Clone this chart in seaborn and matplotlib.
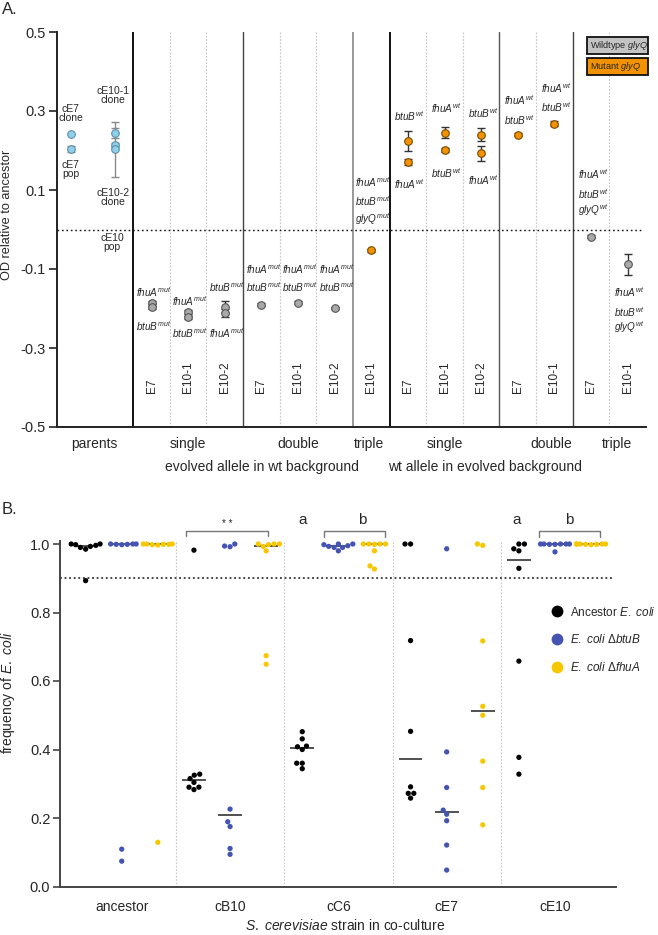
import numpy as np
import pandas as pd
import matplotlib
matplotlib.use("Agg")
import matplotlib.pyplot as plt
from matplotlib.lines import Line2D
from matplotlib.patches import Rectangle
import seaborn as sns

sns.set_theme(style="white")
plt.rcParams['font.family'] = ['Liberation Sans', 'DejaVu Sans']
plt.rcParams['mathtext.fontset'] = 'custom'
plt.rcParams['mathtext.rm'] = 'Liberation Sans'
plt.rcParams['mathtext.it'] = 'Liberation Sans:italic'
plt.rcParams['mathtext.bf'] = 'Liberation Sans:bold'

# ---------------- Panel A data ----------------
colA_labels = ["E7", "E10-1", "E10-2", "E7", "E10-1", "E10-2", "E10-1",
               "E7", "E10-1", "E10-2", "E7", "E10-1", "E7", "E10-1"]
subgroup_labels = ["parents", "single", "double", "triple", "single", "double", "triple"]
subgroup_pos = [-1.05, 1.5, 4.5, 6.45, 8.5, 11.4, 13.2]
maingroup_labels = ["evolved allele in wt background", "wt allele in evolved background"]
maingroup_pos = [3.52, 9.6]

parents_x = [-1.7, -0.5]          # cE7, cE10 positions in the parents area

# points: column (-2 = cE7 parent, -1 = cE10 parent), value, sd, glyQ status
ptA_col = [-2, -2, -1, -1, -1,
           0, 0, 1, 1, 2, 2, 3, 4, 5,
           6, 7, 7, 8, 8, 9, 9, 10, 11,
           12, 13]
ptA_val = [0.241, 0.203, 0.244, 0.215, 0.203,
           -0.185, -0.197, -0.209, -0.222, -0.195, -0.211, -0.190, -0.185, -0.199,
           -0.053, 0.224, 0.171, 0.245, 0.201, 0.240, 0.193, 0.240, 0.268,
           -0.018, -0.088]
ptA_err = [0.0, 0.008, 0.012, 0.005, 0.070,
           0.004, 0.004, 0.004, 0.004, 0.015, 0.011, 0.003, 0.003, 0.003,
           0.004, 0.026, 0.008, 0.014, 0.006, 0.016, 0.019, 0.004, 0.007,
           0.003, 0.026]
ptA_type = ["parent"] * 5 + ["wt"] * 9 + ["mut"] * 9 + ["wt"] * 2

parent_text = ["cE7\nclone", "cE7\npop", "cE10-1\nclone", "cE10-2\nclone", "cE10\npop"]
parent_text_x = [-1.7, -1.7, -0.54, -0.56, -0.58]
parent_text_y = [0.294, 0.152, 0.339, 0.081, -0.033]

gl_col = [0, 0, 1, 1, 2, 2, 3, 3, 4, 4, 5, 5, 6, 6, 6,
          7, 7, 8, 8, 9, 9, 10, 10, 11, 11, 12, 12, 12, 13, 13, 13]
gl_gene = ["fhuA", "btuB", "fhuA", "btuB", "btuB", "fhuA", "fhuA", "btuB",
           "fhuA", "btuB", "fhuA", "btuB", "fhuA", "btuB", "glyQ",
           "btuB", "fhuA", "fhuA", "btuB", "btuB", "fhuA", "fhuA", "btuB",
           "fhuA", "btuB", "fhuA", "btuB", "glyQ", "fhuA", "btuB", "glyQ"]
gl_allele = ["mut"] * 15 + ["wt"] * 16
gl_y = [-0.159, -0.245, -0.180, -0.263, -0.146, -0.263, -0.099, -0.146,
        -0.099, -0.146, -0.099, -0.146, 0.120, 0.071, 0.027,
        0.286, 0.116, 0.308, 0.143, 0.294, 0.126, 0.327, 0.278,
        0.359, 0.310, 0.139, 0.090, 0.048, -0.159, -0.208, -0.247]

# ---------------- Panel B data ----------------
groupsB = ["ancestor", "cB10", "cC6", "cE7", "cE10"]
strainsB = ["Ancestor", "btuB", "fhuA"]
freq = {
    ("ancestor", "Ancestor"): [1.0, 0.996, 0.99, 0.985, 0.993, 1.0, 0.998, 0.893],
    ("ancestor", "btuB"): [1.0, 1.0, 0.999, 0.999, 1.0, 0.998, 0.109, 0.074],
    ("ancestor", "fhuA"): [1.0, 1.0, 0.999, 0.998, 1.0, 0.999, 0.997, 0.129],
    ("cB10", "Ancestor"): [0.982, 0.328, 0.325, 0.315, 0.304, 0.290, 0.290, 0.283],
    ("cB10", "btuB"): [1.0, 0.994, 0.992, 0.226, 0.189, 0.175, 0.111, 0.094],
    ("cB10", "fhuA"): [1.0, 1.0, 1.0, 0.998, 0.993, 0.980, 0.674, 0.649],
    ("cC6", "Ancestor"): [0.452, 0.431, 0.410, 0.408, 0.400, 0.360, 0.360, 0.344],
    ("cC6", "btuB"): [1.0, 1.0, 0.998, 0.995, 0.993, 0.990, 0.990, 0.980],
    ("cC6", "fhuA"): [1.0, 1.0, 1.0, 1.0, 0.999, 0.980, 0.936, 0.927],
    ("cE7", "Ancestor"): [1.0, 1.0, 0.718, 0.453, 0.291, 0.272, 0.272, 0.258],
    ("cE7", "btuB"): [0.986, 0.393, 0.289, 0.223, 0.211, 0.192, 0.121, 0.048],
    ("cE7", "fhuA"): [1.0, 0.996, 0.717, 0.526, 0.500, 0.366, 0.289, 0.180],
    ("cE10", "Ancestor"): [1.0, 1.0, 0.986, 0.980, 0.929, 0.658, 0.377, 0.328],
    ("cE10", "btuB"): [1.0, 1.0, 1.0, 1.0, 1.0, 0.999, 0.999, 0.977],
    ("cE10", "fhuA"): [1.0, 1.0, 1.0, 1.0, 1.0, 0.999, 0.999, 0.998],
}
colorsB = {"Ancestor": "#000000", "btuB": "#4553b3", "fhuA": "#f7c800"}
legend_labels = [r"Ancestor $\mathit{E.}$ $\mathit{coli}$",
                 r"$\mathit{E.}$ $\mathit{coli}$ Δ$\mathit{btuB}$",
                 r"$\mathit{E.}$ $\mathit{coli}$ Δ$\mathit{fhuA}$"]

# ---------------- Figure ----------------
W, H = 658, 935
fig = plt.figure(figsize=(W / 100, H / 100), dpi=100)
fig.patch.set_facecolor("white")

def fx(px):
    return px / W

def fy(py):
    return 1 - py / H

# ========== Panel A ==========
axA = fig.add_axes([fx(57), fy(427), fx(646 - 57), (427 - 32) / H])
axA.set_xlim(-2.08, 14.0)
axA.set_ylim(-0.5, 0.5)
for s in ["top", "right"]:
    axA.spines[s].set_visible(False)
for s in ["left", "bottom"]:
    axA.spines[s].set_color("#222222")
    axA.spines[s].set_linewidth(1.4)
axA.set_xticks([])
axA.set_yticks([0.5, 0.3, 0.1, -0.1, -0.3, -0.5])
axA.set_yticklabels(["0.5", "0.3", "0.1", "-0.1", "-0.3", "-0.5"], fontsize=10.5)
axA.tick_params(axis="y", length=6, width=1.2, color="#222222", pad=2, left=True)

# separators
solid_style = {0: ("#111111", 1.4), 3: ("#444444", 1.0), 6: ("#9a9a9a", 1.4),
               7: ("#111111", 1.4), 10: ("#555555", 1.0), 12: ("#444444", 1.0)}
for c in range(1, 14):
    if c in solid_style:
        col, lw = solid_style[c]
        axA.axvline(c, color=col, lw=lw, zorder=1)
    else:
        axA.axvline(c, color="#c4c4c4", lw=0.8, ls=(0, (1.5, 1.5)), zorder=1)
axA.axvline(0, color="#111111", lw=1.4, zorder=1)
axA.axhline(0, color="#111111", lw=1.0, ls=(0, (1.2, 2.0)), xmax=0.993, zorder=1)

dfA = pd.DataFrame({"col": ptA_col, "val": ptA_val, "err": ptA_err, "type": ptA_type})
dfA["x"] = [parents_x[c + 2] if c < 0 else c + 0.5 for c in dfA["col"]]

styleA = {"parent": ("#8fd0ec", "#5f8fa6", "#8a8a8a"),
          "wt": ("#a9a9a9", "#555555", "#333333"),
          "mut": ("#f39200", "#7a4a00", "#333333")}
for t, (fc, ec, errc) in styleA.items():
    sub = dfA[dfA["type"] == t]
    e = sub[sub["err"] > 0]
    axA.errorbar(e["x"], e["val"], yerr=e["err"], fmt="none", ecolor=errc,
                 elinewidth=1.0, capsize=3, capthick=1.0, zorder=2)
    sns.scatterplot(data=sub, x="x", y="val", ax=axA, color=fc, edgecolor=ec,
                    linewidth=0.8, s=30, zorder=3, legend=False)
axA.set_xlabel("")
axA.set_ylabel("")

for txt, x, y in zip(parent_text, parent_text_x, parent_text_y):
    axA.text(x, y, txt, ha="center", va="center", fontsize=7.5, linespacing=0.85)

for c, g, a, y in zip(gl_col, gl_gene, gl_allele, gl_y):
    axA.text(c + 0.55, y, rf"$\mathit{{{g}}}^{{\mathit{{{a}}}}}$", ha="center",
             va="center", fontsize=7.2)

for c, lab in enumerate(colA_labels):
    axA.text(c + 0.5, -0.415, lab, rotation=90, ha="center", va="bottom", fontsize=8.5)

for lab, x in zip(subgroup_labels, subgroup_pos):
    axA.text(x, -0.542, lab, ha="center", va="center", fontsize=10, clip_on=False)
for lab, x in zip(maingroup_labels, maingroup_pos):
    axA.text(x, -0.6025, lab, ha="center", va="center", fontsize=10, clip_on=False)

fig.text(fx(7.5), fy(215), "OD relative to ancestor", rotation=90, ha="center",
         va="center", fontsize=9.2)
fig.text(fx(2), fy(9), "A.", ha="left", va="center", fontsize=12)

# legend boxes of panel A
for (py0, fc, lab) in [(37, "#c4c4c4", r"Wildtype $\mathit{glyQ}$"),
                       (58, "#f39200", r"Mutant $\mathit{glyQ}$")]:
    fig.add_artist(Rectangle((fx(587), fy(py0 + 17)), fx(61), 17 / H,
                             transform=fig.transFigure, facecolor=fc,
                             edgecolor="#111111", lw=1.3))
    fig.text(fx(590.5), fy(py0 + 8.5), lab, ha="left", va="center", fontsize=6.6)

# ========== Panel B ==========
rows = []
for g in groupsB:
    for s in strainsB:
        for v in freq[(g, s)]:
            rows.append((g, s, v))
dfB = pd.DataFrame(rows, columns=["group", "strain", "freq"])
dfB["pos"] = dfB["group"] + "|" + dfB["strain"]
orderB = [g + "|" + s for g in groupsB for s in strainsB]

top_px = 886.5 - 1.01 * 342.5
axB = fig.add_axes([fx(60), fy(886.5), fx(616 - 60), (886.5 - top_px) / H])

med = dfB.groupby("pos")["freq"].median()
for i, p in enumerate(orderB):
    axB.hlines(med[p], i - 0.33, i + 0.33, color="#333333", lw=1.2, zorder=2)

sns.swarmplot(data=dfB, x="pos", y="freq", hue="strain", order=orderB,
              hue_order=strainsB, palette=colorsB, size=3.8, linewidth=0,
              ax=axB, legend=False, zorder=3, clip_on=False)

axB.set_xlim(-0.71, 14.69)
axB.set_ylim(0, 1.01)
for s in ["top", "right"]:
    axB.spines[s].set_visible(False)
for s in ["left", "bottom"]:
    axB.spines[s].set_color("#444444")
    axB.spines[s].set_linewidth(1.4)
axB.set_yticks([0.0, 0.2, 0.4, 0.6, 0.8, 1.0])
axB.set_yticklabels(["0.0", "0.2", "0.4", "0.6", "0.8", "1.0"], fontsize=10.5)
axB.tick_params(axis="y", length=5, width=1.2, color="#444444", pad=2, left=True)
axB.set_xticks([1, 4, 7, 10, 13])
axB.set_xticklabels(groupsB, fontsize=10)
axB.tick_params(axis="x", length=0, pad=10)
axB.set_xlabel("")
axB.set_ylabel("")

for xs in [2.5, 5.5, 8.5, 11.5]:
    axB.axvline(xs, color="#c8c8c8", lw=0.8, ls=(0, (1.5, 1.5)), zorder=1)
axB.axhline(0.9, color="#111111", lw=1.1, ls=(0, (1.2, 1.8)), xmax=0.993, zorder=1)

# brackets and significance letters
def bracket(x0, x1, y, yd):
    axB.plot([x0, x0, x1, x1], [yd, y, y, yd], color="#777777", lw=1.0,
             clip_on=False, zorder=2)

bracket(2.78, 5.06, 1.039, 1.024)
axB.text(3.91, 1.058, "* *", ha="center", va="center", fontsize=7)
axB.text(6.0, 1.069, "a", ha="center", va="center", fontsize=11)
bracket(6.6, 8.3, 1.038, 1.021)
axB.text(7.65, 1.069, "b", ha="center", va="center", fontsize=11)
axB.text(11.93, 1.069, "a", ha="center", va="center", fontsize=11)
bracket(12.57, 14.25, 1.038, 1.021)
axB.text(13.4, 1.069, "b", ha="center", va="center", fontsize=11)

handles = [Line2D([0], [0], marker="o", ls="none", markersize=8.5,
                  markerfacecolor=colorsB[s], markeredgewidth=0) for s in strainsB]
axB.legend(handles, legend_labels, loc="upper left",
           bbox_to_anchor=(fx(540), fy(595)), bbox_transform=fig.transFigure,
           frameon=False, fontsize=8.5, handlelength=1.1, handletextpad=0.5,
           labelspacing=1.25, borderpad=0.4)

fig.text(fx(8), fy(693), r"frequency of $\mathit{E.}$ $\mathit{coli}$", rotation=90,
         ha="center", va="center", fontsize=10)
fig.text(fx(345), fy(925), r"$\mathit{S.}$ $\mathit{cerevisiae}$ strain in co-culture",
         ha="center", va="center", fontsize=10)
fig.text(fx(2), fy(510), "B.", ha="left", va="center", fontsize=12)

fig.savefig("out.png", dpi=100, facecolor="white")
